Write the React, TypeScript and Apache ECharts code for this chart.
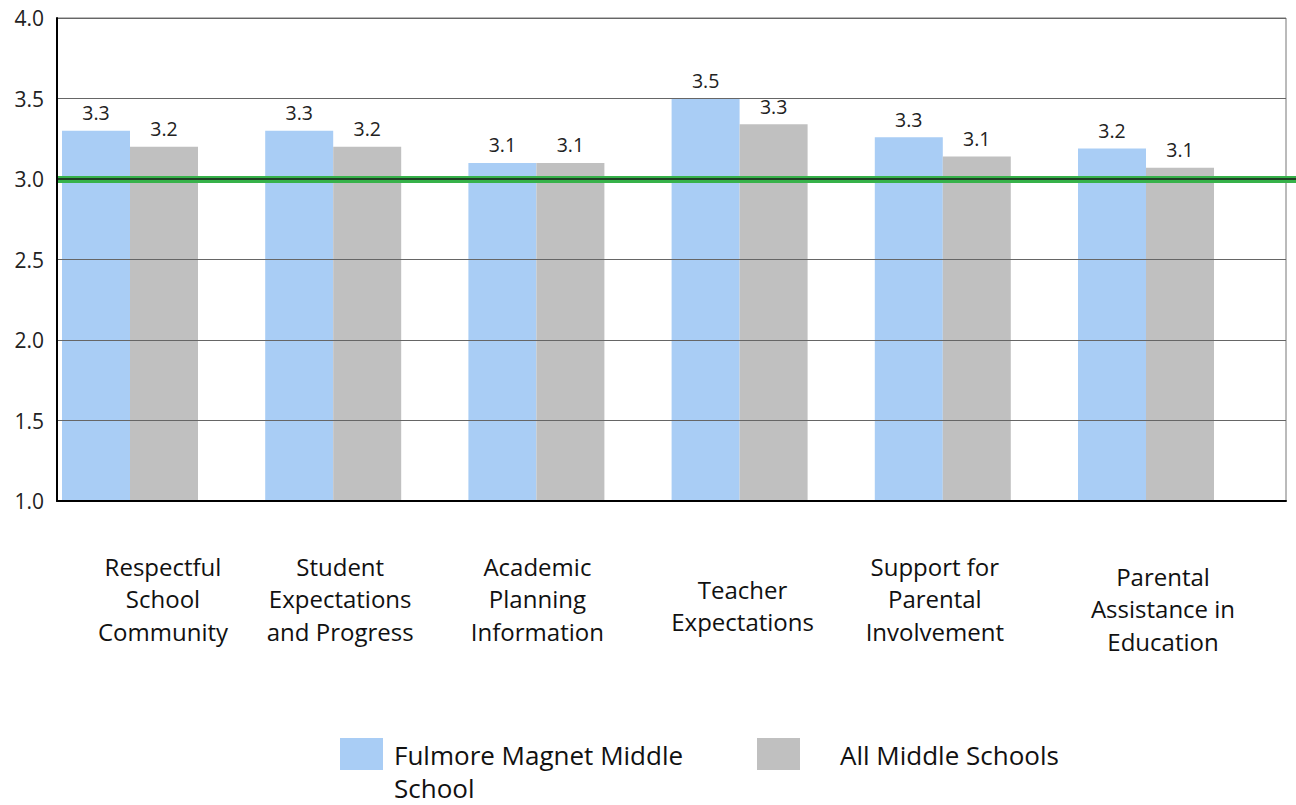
import React, { useEffect, useRef } from "react";
import * as echarts from "echarts";

const categories = [
  "Respectful\nSchool\nCommunity",
  "Student\nExpectations\nand Progress",
  "Academic\nPlanning\nInformation",
  "Teacher\nExpectations",
  "Support for\nParental\nInvolvement",
  "Parental\nAssistance in\nEducation",
];
const seriesNames = ["Fulmore Magnet Middle School", "All Middle Schools"];
const legendLines = [["Fulmore Magnet Middle", "School"], ["All Middle Schools"]];
const fulmore = [3.3, 3.3, 3.1, 3.5, 3.26, 3.19];
const allMiddle = [3.2, 3.2, 3.1, 3.34, 3.14, 3.07];
const yTicks = [1.0, 1.5, 2.0, 2.5, 3.0, 3.5, 4.0];
const targetValue = 3.0;

const FONT = "'Open Sans', sans-serif";
const BLUE = "#a9cdf5";
const GRAY = "#c0c0c0";

// per-label nudges (padding) to mimic original label placement
const labelPadding = [
  [0, 0, 0, 66],
  [0, 0, 0, 14],
  [0, 0, 0, 2],
  [23, 0, 0, 6],
  [0, 16, 0, 0],
  [10, 0, 0, 34],
];

export default function App() {
  const ref = useRef<HTMLDivElement>(null);
  useEffect(() => {
    if (!ref.current) return;
    const chart = echarts.init(ref.current, null, { renderer: "svg" });
    const top = 18;
    const bottom = 304;
    const barLabel = {
      show: true,
      position: "top",
      distance: 8,
      color: "#222",
      fontSize: 19.5,
      fontFamily: FONT,
      formatter: (p: any) => Number(p.value).toFixed(1),
    };
    const legendText = (x: number, lines: string[]) =>
      lines.map((t, i) => ({
        type: "text",
        x,
        y: 755 + i * 33,
        style: {
          text: t,
          fill: "#111",
          font: `26px ${FONT}`,
          textVerticalAlign: "middle",
        },
      }));
    chart.setOption({
      animation: false,
      backgroundColor: "#ffffff",
      textStyle: { fontFamily: FONT },
      grid: [
        { left: 57, right: 10, top, bottom, show: true, borderColor: "#777", borderWidth: 1 },
        { left: 28.4, right: 48.4, top, bottom },
        { left: 57, right: 0, top, bottom },
      ],
      xAxis: [
        {
          gridIndex: 0,
          type: "category",
          data: categories,
          axisLine: { show: true, lineStyle: { color: "#000", width: 2 } },
          axisTick: { show: false },
          axisLabel: { show: false },
          z: 5,
        },
        {
          gridIndex: 1,
          type: "category",
          data: categories.map((c, i) => ({
            value: c,
            textStyle: { padding: labelPadding[i] },
          })),
          axisLine: { show: false },
          axisTick: { show: false },
          axisLabel: {
            show: true,
            interval: 0,
            color: "#111",
            fontSize: 24,
            lineHeight: 32.5,
            fontFamily: FONT,
            verticalAlign: "middle",
            margin: 49,
          },
        },
        { gridIndex: 2, type: "value", min: 0, max: 1, show: false },
      ],
      yAxis: [
        {
          gridIndex: 0,
          type: "value",
          min: yTicks[0],
          max: yTicks[yTicks.length - 1],
          interval: 0.5,
          axisLine: { show: true, lineStyle: { color: "#000", width: 2 } },
          axisTick: { show: false },
          axisLabel: {
            color: "#222",
            fontSize: 21,
            fontFamily: FONT,
            margin: 13,
            formatter: (v: number) => v.toFixed(1),
          },
          splitLine: { show: true, lineStyle: { color: "#666", width: 1 } },
          z: 5,
        },
        { gridIndex: 1, type: "value", min: 1, max: 4, show: false },
        { gridIndex: 2, type: "value", min: 1, max: 4, show: false },
      ],
      series: [
        {
          type: "scatter",
          xAxisIndex: 2,
          yAxisIndex: 2,
          data: [[0.5, targetValue]],
          symbolSize: 0,
          silent: true,
          z: 1,
          markLine: {
            silent: true,
            symbol: "none",
            label: { show: false },
            data: [
              { yAxis: targetValue, lineStyle: { color: "#37b24a", width: 7, type: "solid" } },
              { yAxis: targetValue, lineStyle: { color: "#1a1a1a", width: 1.5, type: "solid" } },
            ],
          },
        },
        {
          name: seriesNames[0],
          type: "bar",
          xAxisIndex: 1,
          yAxisIndex: 1,
          data: fulmore,
          barWidth: 68,
          barGap: "0%",
          itemStyle: { color: BLUE },
          z: 3,
          label: barLabel,
        },
        {
          name: seriesNames[1],
          type: "bar",
          xAxisIndex: 1,
          yAxisIndex: 1,
          data: allMiddle,
          barWidth: 68,
          barGap: "0%",
          itemStyle: { color: GRAY },
          z: 3,
          label: barLabel,
        },
      ],
      graphic: [
        { type: "rect", shape: { x: 340, y: 738, width: 43, height: 32 }, style: { fill: BLUE } },
        ...legendText(394, legendLines[0]),
        { type: "rect", shape: { x: 757, y: 738, width: 43, height: 32 }, style: { fill: GRAY } },
        ...legendText(840, legendLines[1]),
      ],
    });
    return () => chart.dispose();
  }, []);
  return <div ref={ref} style={{ width: 1296, height: 805, position: "absolute", left: 0, top: 0 }} />;
}
